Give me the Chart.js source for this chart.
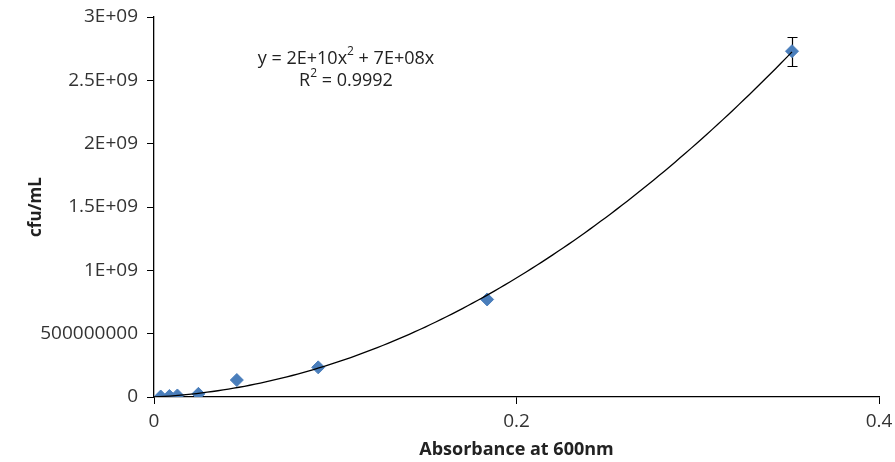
<!DOCTYPE html>
<html>
<head>
<meta charset="utf-8">
<script src="https://cdn.jsdelivr.net/npm/chart.js@4.4.0/dist/chart.umd.min.js"></script>
<style>
  html, body { margin: 0; padding: 0; background: #fff; }
  #wrap { width: 895px; height: 462px; }
</style>
</head>
<body>
<div id="wrap"><canvas id="curve"></canvas></div>
<script>
// OD600 of the dilution series against plate counts
const absorbance = [0.0037, 0.0085, 0.0129, 0.0245, 0.0457, 0.0906, 0.1838, 0.352];
const cfuPerMl = [4e6, 8e6, 12e6, 25e6, 134e6, 234e6, 770e6, 2730e6];
const cfuError = [0, 0, 0, 0, 0, 0, 0, 115e6];

// 2nd order trendline through the origin, coefficients as printed
const trendA = 2e10;
const trendB = 7e8;
const trendText = ['y = 2E+10x', '2', ' + 7E+08x'];
const r2Text = ['R', '2', ' = 0.9992'];

const xTicks = [0, 0.2, 0.4];
const xTickLabels = ['0', '0.2', '0.4'];
const yTicks = [0, 5e8, 1e9, 1.5e9, 2e9, 2.5e9, 3e9];
const yTickLabels = ['0', '500000000', '1E+09', '1.5E+09', '2E+09', '2.5E+09', '3E+09'];

const FONT = '"Open Sans", sans-serif';

const points = absorbance.map((a, i) => ({x: a, y: cfuPerMl[i]}));

const trendPts = [];
const xEnd = absorbance[absorbance.length - 1];
for (let i = 0; i <= 120; i++) {
  const x = xEnd * i / 120;
  trendPts.push({x: x, y: trendA * x * x + trendB * x});
}

// vertical error bars with caps
const errorBars = {
  id: 'errorBars',
  beforeDatasetsDraw(chart) {
    const {ctx, scales: {x, y}} = chart;
    ctx.save();
    ctx.strokeStyle = '#000';
    ctx.lineWidth = 1.2;
    absorbance.forEach((a, i) => {
      if (!cfuError[i]) return;
      const px = Math.round(x.getPixelForValue(a)) + 0.5;
      const top = Math.round(y.getPixelForValue(cfuPerMl[i] + cfuError[i])) + 0.5;
      const bot = Math.round(y.getPixelForValue(cfuPerMl[i] - cfuError[i])) + 0.5;
      ctx.beginPath();
      ctx.moveTo(px, top); ctx.lineTo(px, bot);
      ctx.moveTo(px - 5, top); ctx.lineTo(px + 5, top);
      ctx.moveTo(px - 5, bot); ctx.lineTo(px + 5, bot);
      ctx.stroke();
    });
    ctx.restore();
  }
};

// text like "x" + superscript "2" + rest, centred on cx
function drawSup(ctx, parts, cx, cy) {
  const big = '18px ' + FONT, small = '12px ' + FONT;
  ctx.font = big;
  const w0 = ctx.measureText(parts[0]).width;
  const w2 = ctx.measureText(parts[2]).width;
  ctx.font = small;
  const w1 = ctx.measureText(parts[1]).width;
  let x = cx - (w0 + w1 + w2) / 2;
  ctx.textBaseline = 'middle';
  ctx.textAlign = 'left';
  ctx.font = big;
  ctx.fillText(parts[0], x, cy);
  x += w0;
  ctx.font = small;
  ctx.fillText(parts[1], x, cy - 7);
  x += w1;
  ctx.font = big;
  ctx.fillText(parts[2], x, cy);
}

const equation = {
  id: 'equation',
  afterDraw(chart) {
    const {ctx, chartArea} = chart;
    ctx.save();
    ctx.fillStyle = '#222';
    const cx = chartArea.left + 192;
    drawSup(ctx, trendText, cx, chartArea.top + 42);
    drawSup(ctx, r2Text, cx, chartArea.top + 64);
    ctx.restore();
  }
};

new Chart(document.getElementById('curve'), {
  type: 'scatter',
  data: {
    datasets: [
      {
        type: 'line',
        data: trendPts,
        borderColor: '#000',
        borderWidth: 1.3,
        pointRadius: 0,
        fill: false,
        tension: 0
      },
      {
        data: points,
        pointStyle: 'rectRot',
        pointRadius: 6.5,
        pointHoverRadius: 6.5,
        backgroundColor: '#4A7EBB',
        borderColor: '#4A7EBB',
        borderWidth: 1
      }
    ]
  },
  options: {
    responsive: true,
    maintainAspectRatio: false,
    animation: false,
    events: [],
    layout: { padding: { top: 17, right: 16, left: 0, bottom: 0 } },
    plugins: {
      legend: { display: false },
      tooltip: { enabled: false }
    },
    scales: {
      x: {
        type: 'linear',
        min: 0,
        max: 0.4,
        afterBuildTicks: s => { s.ticks = xTicks.map(v => ({value: v})); },
        afterFit: s => { s.height = 65; s.paddingLeft = 0; s.paddingRight = 0; },
        ticks: {
          callback: (v, i) => xTickLabels[i],
          color: '#333',
          font: { family: FONT, size: 19 },
          padding: 6,
          maxRotation: 0
        },
        grid: { drawOnChartArea: false, drawTicks: true, tickLength: 7, color: '#000' },
        border: { display: true, color: '#000', width: 1.3 },
        title: {
          display: true,
          text: 'Absorbance at 600nm',
          color: '#222',
          font: { family: FONT, size: 18, weight: 'bold' },
          padding: { top: 0, bottom: 1 }
        }
      },
      y: {
        type: 'linear',
        min: 0,
        max: 3e9,
        afterBuildTicks: s => { s.ticks = yTicks.map(v => ({value: v})); },
        afterFit: s => { s.width = 154; s.paddingTop = 0; s.paddingBottom = 0; },
        ticks: {
          callback: (v, i) => yTickLabels[i],
          color: '#333',
          font: { family: FONT, size: 19 },
          padding: 9
        },
        grid: { drawOnChartArea: false, drawTicks: true, tickLength: 7, color: '#000' },
        border: { display: true, color: '#000', width: 1.3 },
        title: {
          display: true,
          text: 'cfu/mL',
          color: '#222',
          font: { family: FONT, size: 17, weight: 'bold' },
          padding: { top: 26, bottom: 0 }
        }
      }
    }
  },
  plugins: [errorBars, equation]
});
</script>
</body>
</html>
